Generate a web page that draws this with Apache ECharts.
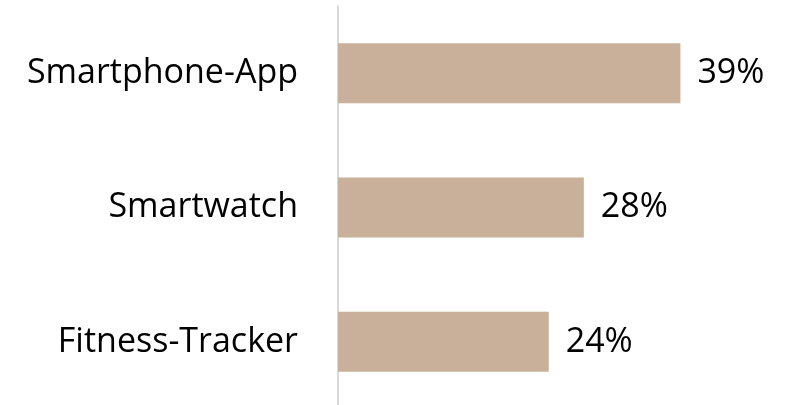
<!DOCTYPE html>
<html>
<head>
<meta charset="utf-8">
<script src="https://cdn.jsdelivr.net/npm/echarts@6/dist/echarts.min.js"></script>
<style>
  html, body { margin: 0; padding: 0; background: #fff; }
  #chart { width: 785px; height: 405px; }
</style>
</head>
<body>
<div id="chart"></div>
<script>
const categories = ['Smartphone-App', 'Smartwatch', 'Fitness-Tracker']
const values = [39, 28, 24]

const chart = echarts.init(document.getElementById('chart'))

chart.setOption({
  animation: false,
  grid: { left: 338, right: 8, top: 6, height: 403, outerBoundsMode: 'none' },
  xAxis: {
    type: 'value',
    min: 0,
    max: 50,
    show: false,
  },
  yAxis: {
    type: 'category',
    data: categories,
    inverse: true,
    axisLine: { show: true, lineStyle: { color: '#D9D9D9', width: 2 } },
    axisTick: { show: false },
    axisLabel: {
      margin: 40,
      color: '#000',
      fontFamily: 'Open Sans',
      fontSize: 34,
    },
  },
  series: [{
    type: 'bar',
    data: values,
    barWidth: 60,
    itemStyle: { color: '#C8B09A' },
    label: {
      show: true,
      position: 'right',
      distance: 17,
      formatter: '{c}%',
      color: '#000',
      fontFamily: 'Open Sans',
      fontSize: 34,
    },
  }],
})
</script>
</body>
</html>
